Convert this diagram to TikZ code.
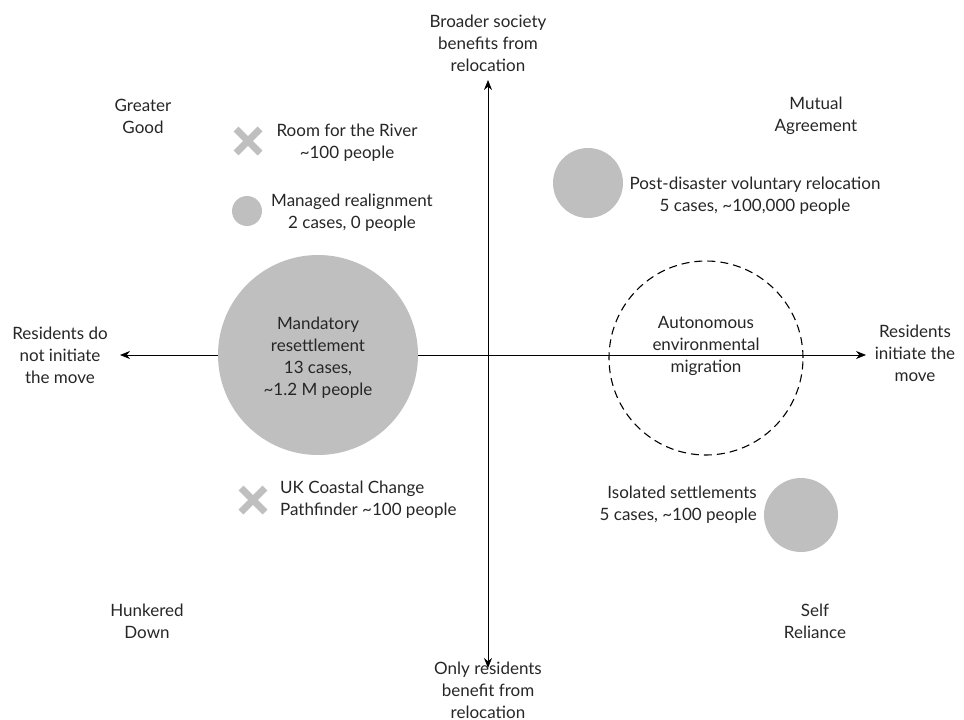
\documentclass[tikz,border=0pt]{standalone}
\usepackage{fontspec}
\setmainfont{Lato}
\usetikzlibrary{arrows.meta,calc}
\begin{document}
\begin{tikzpicture}[x=1pt,y=-1pt,
  lbl/.style={font=\fontsize{17}{22}\selectfont\addfontfeatures{Numbers=Lining}, align=center, inner sep=0pt, text=black!85},
  blob/.style={circle, fill=black!25, draw=none, inner sep=0pt},
  axis/.style={line width=1pt, {Stealth[length=10pt,width=8pt]}-{Stealth[length=10pt,width=8pt]}},
  crossline/.style={line width=7pt, draw=black!25}]
\useasboundingbox (0,0) rectangle (964,720);
% axes ends
\coordinate (top) at (488,80);
\coordinate (bot) at (488,668);
\coordinate (lft) at (120,355);
\coordinate (rgt) at (866,355);
\draw[axis] (bot) -- (top);
\draw[axis] (lft) -- (rgt);
% circles
\node[blob, minimum size=200pt] (mand) at (318,355) {};
\node[blob, minimum size=70pt] (post) at (588,183) {};
\node[blob, minimum size=30pt] (man) at (247,211) {};
\node[blob, minimum size=74pt] (iso) at (801,515) {};
\node[circle, draw, dashed, line width=1.1pt, dash pattern=on 8pt off 5pt, minimum size=194pt, inner sep=0pt] (auto) at (706,358) {};
% crosses
\coordinate (c1) at (248,141);
\draw[crossline] ($(c1)+(-12,-12)$) -- ($(c1)+(12,12)$) ($(c1)+(-12,12)$) -- ($(c1)+(12,-12)$);
\coordinate (c2) at (253,500);
\draw[crossline] ($(c2)+(-12,-12)$) -- ($(c2)+(12,12)$) ($(c2)+(-12,12)$) -- ($(c2)+(12,-12)$);
% labels
\node[lbl] (tb) at (488,43) {Broader society\\benefits from\\relocation};
\node[lbl] (bb) at (488,690) {Only residents\\benefit from\\relocation};
\node[lbl] (lb) at (60,355) {Residents do\\not initiate\\the move};
\node[lbl] (rb) at (915,353) {Residents\\initiate the\\move};
\node[lbl] (gg) at (143,116) {Greater\\Good};
\node[lbl] (ma) at (816,116) {Mutual\\Agreement};
\node[lbl] (hd) at (147,621) {Hunkered\\Down};
\node[lbl] (sr) at (815,621) {Self\\Reliance};
\node[lbl] (rr) at (347,143) {Room for the River\\\textasciitilde 100 people};
\node[lbl] (mr) at (352,213) {Managed realignment\\2 cases, 0 people};
\node[lbl] (pd) at (755,196) {Post-disaster voluntary relocation\\5 cases, \textasciitilde 100,000 people};
\node[lbl] (mt) at (318,358) {Mandatory\\resettlement\\13 cases,\\\textasciitilde 1.2 M people};
\node[lbl] (at) at (706,346) {Autonomous\\environmental\\migration};
\node[lbl, align=left, anchor=west] (uk) at (280,500) {UK Coastal Change\\Pathfinder \textasciitilde 100 people};
\node[lbl, align=right, anchor=east] (is) at (757,505) {Isolated settlements\\5 cases, \textasciitilde 100 people};
\end{tikzpicture}
\end{document}
